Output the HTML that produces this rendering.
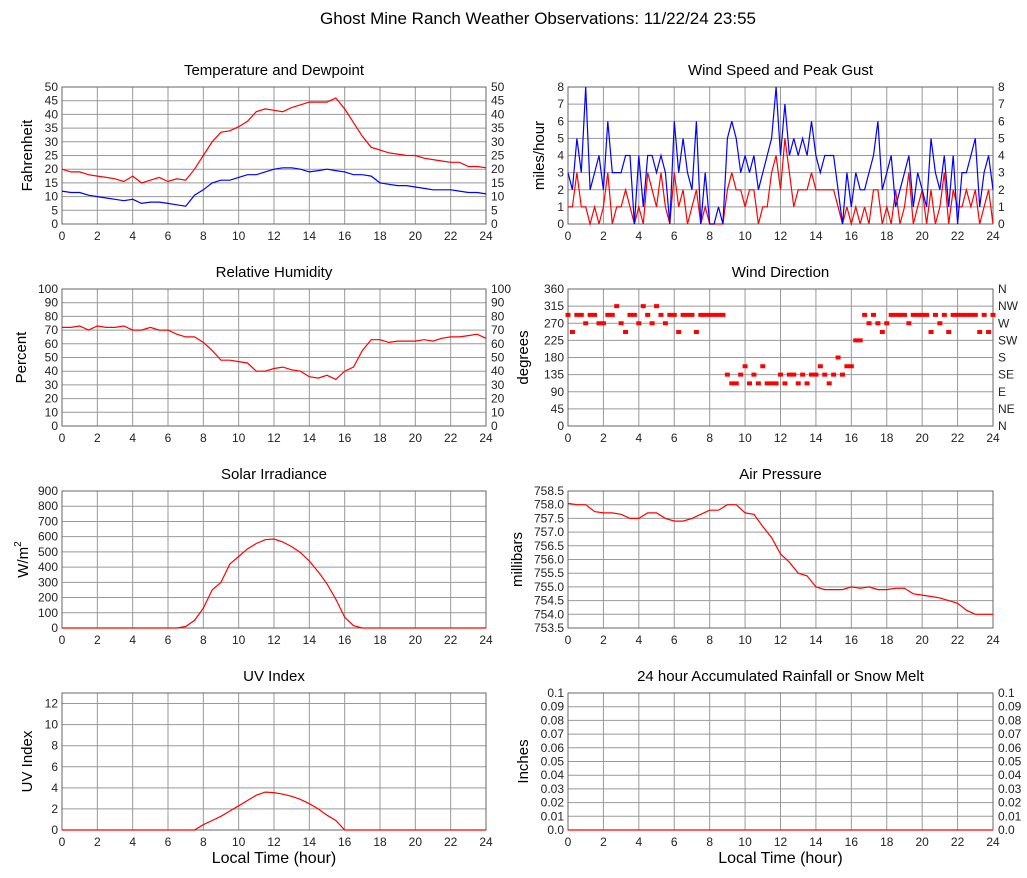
<!DOCTYPE html>
<html><head><meta charset="utf-8"><style>
body{margin:0;background:#fff;}
svg{display:block;font-family:"Liberation Sans",Arial,sans-serif;}
</style></head><body>
<svg id="chart" width="1027" height="878" viewBox="0 0 1027 878">
<text x="538" y="24" font-size="17" text-anchor="middle">Ghost Mine Ranch Weather Observations: 11/22/24 23:55</text>
</svg>
<script>
// ---- data (hours sampled uniformly across 0..24) ----
const tempF=[20,19,19,18,17.5,17,16.5,15.5,17.5,15,16,17,15.5,16.5,16,20,25,30,33.5,34,35.5,37.5,41,42,41.5,41,42.5,43.5,44.5,44.5,44.5,46,42,37,32,28,27,26,25.5,25,25,24,23.5,23,22.5,22.5,21,21,20.5];
const dewF=[12,11.5,11.5,10.5,10,9.5,9,8.5,9,7.5,8,8,7.5,7,6.5,10.5,12.5,15,16,16,17,18,18,19,20,20.5,20.5,20,19,19.5,20,19.5,19,18,18,17.5,15,14.5,14,14,13.5,13,12.5,12.5,12.5,12,11.5,11.5,11];
const gustMph=[3,2,5,3,8,2,3,4, 2,6,3,3,3,4,4,0, 4,1,4,4,3,4,3,0, 6,3,5,3,2,6,0,3, 0,0,1,0,5,6,5,3, 4,3,4,2,3,4,5,8, 4,7,4,5,4,5,4,6, 4,3,4,4,4,2,0,3, 1,3,2,2,3,4,6,2, 3,4,1,2,3,4,1,3, 2,1,5,3,2,4,1,4, 0,3,3,4,5,1,3,4,2];
const speedMph=[1,1,3,1,1,0,1,0, 1,3,0,1,1,2,1,0, 1,0,3,2,1,3,1,0, 3,1,2,0,1,2,0,1, 0,0,0,0,2,3,2,2, 1,2,2,0,1,1,3,4, 2,5,3,1,2,2,2,3, 2,2,2,2,2,1,0,1, 0,1,0,1,0,2,2,0, 1,0,2,0,1,3,0,1, 2,0,2,0,1,3,0,2, 1,1,2,1,2,0,1,2,0];
const humidityPct=[72,72,73,70,73,72,72,73,70,70,72,70,70,67,65,65,61,55,48,48,47,46,40,40,42,43,41,40,36,35,37,34,40,43,55,63,63,61,62,62,62,63,62,64,65,65,66,67,64];
const windDirDeg=[292,247,292,292,270,292,292,270, 270,292,292,315,270,247,292,292, 270,315,292,270,315,292,270,292, 292,247,292,292,292,247,292,292, 292,292,292,292,135,112,112,135, 157,112,135,112,157,112,112,112, 135,112,135,135,112,135,112,135, 135,157,135,112,135,180,135,157, 157,225,225,292,270,292,270,247, 270,292,292,292,292,270,292,292, 292,292,247,292,270,292,247,292, 292,292,292,292,292,247,292,247,292];
const solarWm2=[0,0,0,0,0,0,0,0,0,0,0,0,0,0,10,50,130,250,300,420,470,520,555,580,585,565,535,495,440,370,290,190,70,15,0,0,0,0,0,0,0,0,0,0,0,0,0,0,0];
const pressureMb=[758.05,758,758,757.75,757.7,757.7,757.65,757.5,757.5,757.7,757.7,757.5,757.4,757.4,757.5,757.65,757.8,757.8,758,758,757.7,757.65,757.2,756.8,756.2,755.9,755.5,755.4,755,754.9,754.9,754.9,755,754.95,755,754.9,754.9,754.95,754.95,754.75,754.7,754.65,754.6,754.5,754.4,754.15,754,754,754];
const uvIndex=[0,0,0,0,0,0,0,0,0,0,0,0,0,0,0,0,0.5,0.9,1.3,1.8,2.3,2.8,3.3,3.6,3.55,3.4,3.2,2.9,2.5,2,1.4,0.9,0,0,0,0,0,0,0,0,0,0,0,0,0,0,0,0,0];
const rainIn=[0,0,0,0,0,0,0,0,0,0,0,0,0,0,0,0,0,0,0,0,0,0,0,0,0];
const xTicks=[0,2,4,6,8,10,12,14,16,18,20,22,24];
const tempTicks=[0,5,10,15,20,25,30,35,40,45,50];
const windTicks=[0,1,2,3,4,5,6,7,8];
const rhTicks=[0,10,20,30,40,50,60,70,80,90,100];
const dirTicks=[0,45,90,135,180,225,270,315,360];
const dirLabels=["N","NE","E","SE","S","SW","W","NW","N"];
const solarTicks=[0,100,200,300,400,500,600,700,800,900];
const presTicks=[753.5,754,754.5,755,755.5,756,756.5,757,757.5,758,758.5];
const uvTicks=[0,2,4,6,8,10,12];
const rainTicks=[0,0.01,0.02,0.03,0.04,0.05,0.06,0.07,0.08,0.09,0.1];
const rainLeftLabels=["0.0","0.01","0.02","0.03","0.04","0.05","0.06","0.07","0.08","0.09","0.1"];
const rainRightLabels=["0.0","0.01","0.02","0.03","0.04","0.05","0.06","0.07","0.08","0.09","0.1"];

const NS="http://www.w3.org/2000/svg";
const svg=document.getElementById('chart');
function mk(tag,attrs,parent){const e=document.createElementNS(NS,tag);for(const k in attrs)e.setAttribute(k,attrs[k]);(parent||svg).appendChild(e);return e;}

function panel(p){
  const g=mk('g',{});
  
  
  const X=h=>p.x0+(h/24)*(p.x1-p.x0);
  const Y=v=>p.y1-(v-p.ymin)/(p.ymax-p.ymin)*(p.y1-p.y0);
  const t=mk('text',{x:(p.x0+p.x1)/2,y:p.y0-12,'font-size':15,'text-anchor':'middle'},g);
  t.textContent=p.title;
  
  
  xTicks.forEach(h=>{
    const l=mk('line',{x1:X(h),x2:X(h),y1:p.y0,y2:p.y1,stroke:'#999','stroke-width':1},g);
    
    
    const tl=mk('text',{x:X(h),y:p.y1+16,'font-size':12,'text-anchor':'middle',fill:'#222'},g);
    tl.textContent=h;
    
    
  });
  p.ticks.forEach((v,i)=>{
    const l=mk('line',{x1:p.x0,x2:p.x1,y1:Y(v),y2:Y(v),stroke:'#999','stroke-width':1},g);
    
    
    const tl=mk('text',{x:p.x0-4,y:Y(v)+4,'font-size':12,'text-anchor':'end',fill:'#222'},g);
    tl.textContent=p.left?p.left[i]:v;
    
    
    if(p.right){
      const tr=mk('text',{x:p.x1+5,y:Y(v)+4,'font-size':12,'text-anchor':'start',fill:'#222'},g);
      tr.textContent=p.right===true?v:p.right[i];
      
      
    }
  });
  const b=mk('rect',{x:p.x0,y:p.y0,width:p.x1-p.x0,height:p.y1-p.y0,fill:'none',stroke:'#666','stroke-width':1},g);
  
  
  const yl=mk('text',{x:0,y:0,'font-size':15,'text-anchor':'middle',transform:`translate(${p.x0-p.ylabOff},${(p.y0+p.y1)/2}) rotate(-90)`},g);
  yl.textContent=p.ylabel;
  if(p.sup){const s=mk('tspan',{'font-size':10,dy:-7},yl);s.textContent=p.sup;}
  
  
  if(p.xlabel){
    const xl=mk('text',{x:(p.x0+p.x1)/2,y:p.y1+33,'font-size':16,'text-anchor':'middle'},g);
    xl.textContent='Local Time (hour)';
    
    
  }
  (p.series||[]).forEach(s=>{
    const n=s.data.length;
    if(s.dots){
      s.data.forEach((v,i)=>{
        const r=mk('rect',{x:X(i*24/(n-1))-2.5,y:Y(v)-2,width:5,height:4,fill:s.color},g);
        
        
      });
    } else {
      const pts=s.data.map((v,i)=>X(i*24/(n-1)).toFixed(1)+','+Y(v).toFixed(1)).join(' ');
      const pl=mk('polyline',{points:pts,fill:'none',stroke:s.color,'stroke-width':1.2},g);
      
      
    }
  });
}
const L=[62,486],R=[568,993],rows=[87,289,491,693],H=137;
panel({name:'temperature',title:'Temperature and Dewpoint',x0:L[0],x1:L[1],y0:rows[0],y1:rows[0]+H,ymin:0,ymax:50,ticks:tempTicks,right:true,ylabel:'Fahrenheit',ylabOff:30,
  series:[{name:'temperature',data:tempF,color:'#f00'},{name:'dewpoint',data:dewF,color:'#00f'}]});
panel({name:'wind-speed',title:'Wind Speed and Peak Gust',x0:R[0],x1:R[1],y0:rows[0],y1:rows[0]+H,ymin:0,ymax:8,ticks:windTicks,right:true,ylabel:'miles/hour',ylabOff:24,
  series:[{name:'wind-speed',data:speedMph,color:'#f00'},{name:'peak-gust',data:gustMph,color:'#00f'}]});
panel({name:'humidity',title:'Relative Humidity',x0:L[0],x1:L[1],y0:rows[1],y1:rows[1]+H,ymin:0,ymax:100,ticks:rhTicks,right:true,ylabel:'Percent',ylabOff:36,
  series:[{name:'humidity',data:humidityPct,color:'#f00'}]});
panel({name:'wind-direction',title:'Wind Direction',x0:R[0],x1:R[1],y0:rows[1],y1:rows[1]+H,ymin:0,ymax:360,ticks:dirTicks,right:dirLabels,ylabel:'degrees',ylabOff:40,
  series:[{name:'wind-direction',data:windDirDeg,color:'#f00',dots:true}]});
panel({name:'solar',title:'Solar Irradiance',x0:L[0],x1:L[1],y0:rows[2],y1:rows[2]+H,ymin:0,ymax:900,ticks:solarTicks,ylabel:'W/m',sup:'2',ylabOff:34,
  series:[{name:'solar',data:solarWm2,color:'#f00'}]});
panel({name:'pressure',title:'Air Pressure',x0:R[0],x1:R[1],y0:rows[2],y1:rows[2]+H,ymin:753.5,ymax:758.5,ticks:presTicks,left:presTicks.map(v=>v.toFixed(1)),ylabel:'millibars',ylabOff:46,
  series:[{name:'pressure',data:pressureMb,color:'#f00'}]});
panel({name:'uv',title:'UV Index',x0:L[0],x1:L[1],y0:rows[3],y1:rows[3]+H,ymin:0,ymax:13,ticks:uvTicks,ylabel:'UV Index',ylabOff:30,xlabel:true,
  series:[{name:'uv',data:uvIndex,color:'#f00'}]});
panel({name:'rainfall',title:'24 hour Accumulated Rainfall or Snow Melt',x0:R[0],x1:R[1],y0:rows[3],y1:rows[3]+H,ymin:0,ymax:0.1,ticks:rainTicks,left:rainLeftLabels,right:rainRightLabels,ylabel:'Inches',ylabOff:40,xlabel:true,
  series:[{name:'rainfall',data:rainIn,color:'#f00'}]});
</script>
</body></html>
